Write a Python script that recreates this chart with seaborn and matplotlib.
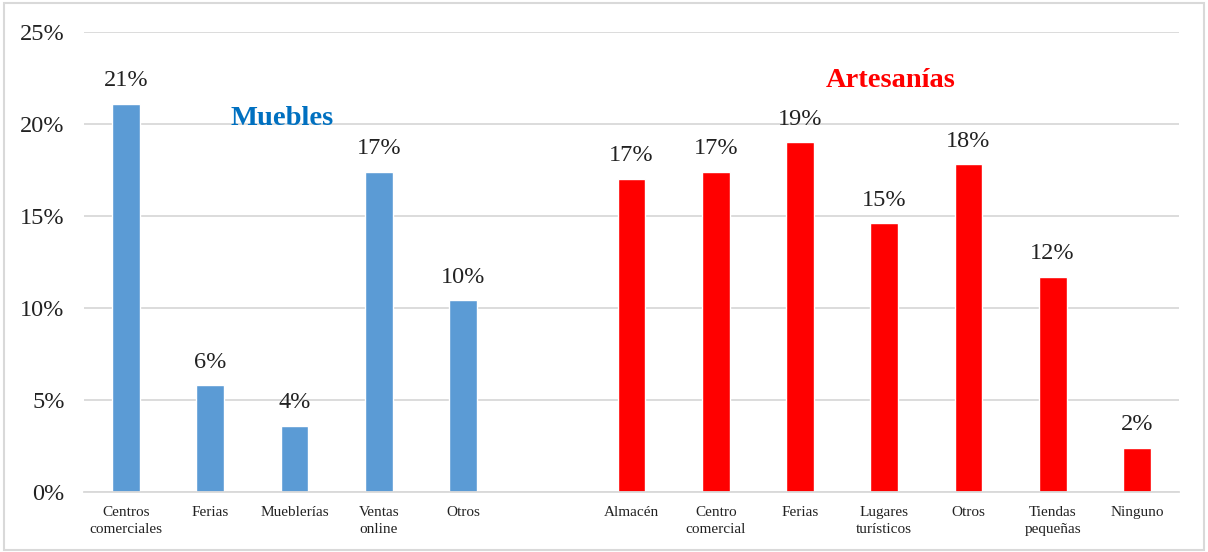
import matplotlib
matplotlib.use("Agg")
import matplotlib.pyplot as plt
import seaborn as sns
import pandas as pd
from matplotlib.patches import Rectangle

# ---- data ----
muebles_cats = ["Centros\ncomerciales", "Ferias", "Mueblerías", "Ventas\nonline", "Otros"]
muebles_vals = [0.211, 0.058, 0.036, 0.174, 0.104]
artes_cats = ["Almacén", "Centro\ncomercial", "Ferias", "Lugares\nturísticos", "Otros",
              "Tiendas\npequeñas", "Ninguno"]
artes_vals = [0.170, 0.174, 0.190, 0.146, 0.178, 0.117, 0.024]
groups = ["Muebles", "Artesanías"]
colors = {"Muebles": "#5B9BD5", "Artesanías": "#FF0000"}
title_colors = {"Muebles": "#0070C0", "Artesanías": "#FF0000"}

# ---- frame ----
keys_m = [f"m{i}" for i in range(len(muebles_cats))]
keys_a = [f"a{i}" for i in range(len(artes_cats))]
df = pd.DataFrame({
    "key": keys_m + keys_a,
    "label": muebles_cats + artes_cats,
    "valor": muebles_vals + artes_vals,
    "grupo": [groups[0]] * len(keys_m) + [groups[1]] * len(keys_a),
})
order = keys_m + ["gap"] + keys_a
ticklabels = muebles_cats + [""] + artes_cats

sns.set_theme(style="white")
plt.rcParams["font.family"] = ["Liberation Serif", "DejaVu Serif"]

fig = plt.figure(figsize=(12.08, 5.52), dpi=100)
ax = fig.add_axes([0.0695, 0.109, 0.9065, 0.8335])

sns.barplot(data=df, x="key", y="valor", hue="grupo", order=order,
            palette=colors, dodge=False, width=0.33, legend=False,
            saturation=1, ax=ax)

for cont in ax.containers:
    ax.bar_label(cont, labels=[f"{v*100:.0f}%" for v in cont.datavalues],
                 padding=9, fontsize=17.5, color="#222222")

ax.set_ylim(0, 0.25)
ax.set_xlim(-0.5, len(order) - 0.5)
ax.set_yticks([0, 0.05, 0.10, 0.15, 0.20, 0.25])
ax.set_yticklabels(["0%", "5%", "10%", "15%", "20%", "25%"])
ax.set_xticks(range(len(order)))
ax.set_xticklabels(ticklabels, linespacing=1.4)
ax.tick_params(axis="y", labelsize=17.5, length=0, pad=14, colors="#222222")
ax.tick_params(axis="x", labelsize=11, length=0, pad=10, colors="#222222")
ax.set_xlabel("")
ax.set_ylabel("")

ax.grid(axis="y", color="#D9D9D9", linewidth=1.3)
ax.set_axisbelow(True)
for s in ["top", "right", "left"]:
    ax.spines[s].set_visible(False)
ax.spines["bottom"].set_color("#D9D9D9")
ax.spines["bottom"].set_linewidth(1.3)

ax.text(0.181, 0.8125, groups[0], transform=ax.transAxes, ha="center", va="center",
        fontsize=20.5, fontweight="bold", color=title_colors["Muebles"])
ax.text(0.737, 0.893, groups[1], transform=ax.transAxes, ha="center", va="center",
        fontsize=20.5, fontweight="bold", color=title_colors["Artesanías"])

fig.patches.append(Rectangle((0.003, 0.004), 0.994, 0.991, transform=fig.transFigure,
                             fill=False, edgecolor="#D9D9D9", linewidth=1.5))

fig.savefig("out.png", dpi=100)
